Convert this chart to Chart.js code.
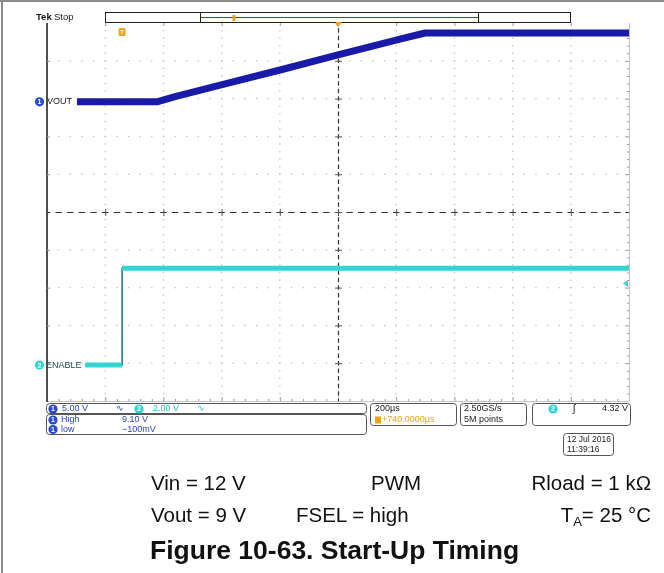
<!DOCTYPE html>
<html><head><meta charset="utf-8">
<script src="https://cdn.jsdelivr.net/npm/chart.js@4/dist/chart.umd.min.js"></script>
<style>
html,body{margin:0;padding:0;background:#fff;}
#wrap{position:relative;width:664px;height:573px;overflow:hidden;background:#fff;}
canvas{position:absolute;left:0;top:0;}
.cap{position:absolute;font-family:"Liberation Sans",Arial,sans-serif;font-size:20.5px;line-height:20px;color:#111;white-space:nowrap;}
.ttl{position:absolute;font-family:"Liberation Sans",Arial,sans-serif;font-size:26.5px;line-height:26px;font-weight:bold;color:#111;white-space:nowrap;}
.edge{position:absolute;background:#8c8c8c;}
</style></head><body>
<div id="wrap">
<canvas id="c" width="664" height="573"></canvas>
<div class="edge" style="left:0;top:0;width:664px;height:2px"></div>
<div class="edge" style="left:1px;top:0;width:2px;height:573px"></div>
<div class="cap" style="left:151px;top:473px">Vin = 12 V</div>
<div class="cap" style="left:371px;top:473px">PWM</div>
<div class="cap" style="right:13px;top:473px">Rload = 1 kΩ</div>
<div class="cap" style="left:151px;top:505px">Vout = 9 V</div>
<div class="cap" style="left:296px;top:505px">FSEL = high</div>
<div class="cap" style="right:13px;top:505px">T<sub style="font-size:13px;vertical-align:-4px">A</sub>= 25 °C</div>
<div class="ttl" style="left:150px;top:537px">Figure 10-63. Start-Up Timing</div>
</div>
<script>
// ---- data ----
const voutTimeUs   = [-897, -622, -560, -371, -199, 0, 213, 299, 1000];
const voutVolts    = [0, 0, 0.70, 2.54, 4.21, 6.20, 8.30, 9.1, 9.1];
const enableTimeUs = [-869, -742, -742, 1000];
const enableVolts  = [0, 0, 5.13, 5.13];
// ---- scope settings ----
const timePerDivUs = 200;
const ch1VoltsPerDiv = 5, ch2VoltsPerDiv = 2;
const ch1GroundDiv = 2.915, ch2GroundDiv = -4.05;
const triggerTimeUs = -742, triggerLevelV = 4.32;
const readout = {
  ch1Scale: '5.00 V', ch2Scale: '2.00 V', high: '9.10 V', low: '\u2212100mV',
  timebase: '200µs', position: '+740.0000µs', rate: '2.50GS/s', points: '5M points',
  trigLevel: '4.32 V', date: '12 Jul 2016', time: '11:39:16'
};

const BLUE = '#1a1aa8', BLUE_M = '#2a48d6', CYAN = '#34d4d4', CYAN_D = '#0e6b6b', ORANGE = '#f0a020';
const FONT = '"Liberation Sans Narrow","Liberation Sans",Arial,sans-serif';

const pts = (xs, ys) => xs.map((x, i) => ({x, y: ys[i]}));

function rrect(c, x, y, w, h, r) {
  c.beginPath();
  c.moveTo(x + r, y); c.lineTo(x + w - r, y); c.quadraticCurveTo(x + w, y, x + w, y + r);
  c.lineTo(x + w, y + h - r); c.quadraticCurveTo(x + w, y + h, x + w - r, y + h);
  c.lineTo(x + r, y + h); c.quadraticCurveTo(x, y + h, x, y + h - r);
  c.lineTo(x, y + r); c.quadraticCurveTo(x, y, x + r, y); c.closePath();
}
function badge(c, x, y, col, n) {
  c.fillStyle = col; c.beginPath(); c.arc(x, y, 4.6, 0, Math.PI * 2); c.fill();
  c.fillStyle = '#fff'; c.font = 'bold 7px ' + FONT; c.textAlign = 'center'; c.textBaseline = 'middle';
  c.fillText(n, x, y + 0.5); c.textAlign = 'left';
}
function txt(c, s, x, y, col, size, bold) {
  c.fillStyle = col; c.font = (bold ? 'bold ' : '') + size + 'px ' + FONT; c.textBaseline = 'middle'; c.fillText(s, x, y);
}

const graticule = {
  id: 'graticule',
  beforeDatasetsDraw(chart) {
    const c = chart.ctx, a = chart.chartArea;
    const L = a.left, R = a.right, T = a.top, B = a.bottom;
    const dx = (R - L) / 10, dy = (B - T) / 10;
    const cx = (L + R) / 2, cy = (T + B) / 2;
    c.save();
    // dotted graticule
    c.fillStyle = '#bdbdbd';
    for (let i = 1; i < 10; i++) {
      if (i === 5) continue;
      const x = L + i * dx;
      for (let j = 1; j < 50; j++) c.fillRect(x - 0.6, T + j * dy / 5 - 0.6, 1.3, 1.3);
      const y = T + i * dy;
      for (let j = 1; j < 50; j++) c.fillRect(L + j * dx / 5 - 0.6, y - 0.6, 1.3, 1.3);
    }
    // frame
    c.strokeStyle = '#c4c4c4'; c.lineWidth = 1;
    c.beginPath(); c.moveTo(R + 0.5, T); c.lineTo(R + 0.5, B); c.moveTo(L, B + 0.5); c.lineTo(R, B + 0.5); c.stroke();
    c.strokeStyle = '#222'; c.lineWidth = 1.6;
    c.beginPath(); c.moveTo(L, T); c.lineTo(L, B + 1); c.stroke();
    // edge ticks
    c.strokeStyle = '#999'; c.lineWidth = 1;
    c.beginPath();
    for (let j = 1; j < 50; j++) {
      const x = L + j * dx / 5, y = T + j * dy / 5;
      const big = j % 5 === 0;
      c.moveTo(x + 0.5, B); c.lineTo(x + 0.5, B - (big ? 4 : 2));
      c.moveTo(R, y + 0.5); c.lineTo(R - (big ? 4 : 2), y + 0.5);
    }
    for (let i = 1; i < 10; i++) {
      const x = L + i * dx, y = T + i * dy;
      c.moveTo(x + 0.5, T); c.lineTo(x + 0.5, T + 3);
      c.moveTo(L, y + 0.5); c.lineTo(L + 3, y + 0.5);
    }
    c.stroke();
    // center crosshair
    c.strokeStyle = '#333'; c.lineWidth = 1.2;
    c.setLineDash([6.5, 5.14]); c.lineDashOffset = 3.25;
    c.beginPath(); c.moveTo(L, cy + 0.5); c.lineTo(R, cy + 0.5); c.stroke();
    c.setLineDash([4.5, 3.06]); c.lineDashOffset = 2.25;
    c.beginPath(); c.moveTo(cx + 0.5, T); c.lineTo(cx + 0.5, B); c.stroke();
    c.setLineDash([]);
    c.lineWidth = 1; c.strokeStyle = '#555';
    c.beginPath();
    for (let i = 1; i < 10; i++) {
      const x = L + i * dx, y = T + i * dy;
      c.moveTo(x + 0.5, cy - 3); c.lineTo(x + 0.5, cy + 4);
      c.moveTo(cx - 3, y + 0.5); c.lineTo(cx + 4, y + 0.5);
    }
    c.stroke();
    c.restore();
  },
  afterDatasetsDraw(chart) {
    const c = chart.ctx, a = chart.chartArea, sx = chart.scales.x, s1 = chart.scales.y1, s2 = chart.scales.y2;
    c.save();
    // channel ground markers and labels
    const g1 = s1.getPixelForValue(0), g2 = s2.getPixelForValue(0);
    badge(c, 39.5, g1, BLUE_M, '1');
    txt(c, 'VOUT', 47, g1, '#222', 9);
    badge(c, 39.5, g2, CYAN, '2');
    txt(c, 'ENABLE', 46, g2, '#244e4e', 9);
    // trigger level marker (right edge)
    const tl = s2.getPixelForValue(triggerLevelV);
    c.fillStyle = CYAN; c.beginPath(); c.moveTo(a.right - 6, tl); c.lineTo(a.right - 1, tl - 3.5); c.lineTo(a.right - 1, tl + 3.5); c.closePath(); c.fill();
    // trigger position marker
    const tx = sx.getPixelForValue(triggerTimeUs);
    c.fillStyle = ORANGE; rrect(c, tx - 3.5, a.top + 5, 7, 8, 1.5); c.fill();
    c.fillStyle = '#fff'; c.font = 'bold 6px ' + FONT; c.textAlign = 'center'; c.textBaseline = 'middle'; c.fillText('T', tx, a.top + 9.3); c.textAlign = 'left';
    // expansion point marker
    const ex = sx.getPixelForValue(0);
    c.fillStyle = ORANGE; c.beginPath(); c.moveTo(ex - 3, a.top); c.lineTo(ex + 3, a.top); c.lineTo(ex, a.top + 4); c.closePath(); c.fill();

    // ---- top status bar ----
    txt(c, 'Tek', 36, 17.5, '#111', 9.5, true);
    txt(c, 'Stop', 54, 17.5, '#222', 9.5);
    c.strokeStyle = '#222'; c.lineWidth = 1;
    c.strokeRect(105.5, 12.5, 465, 10);
    c.beginPath(); c.moveTo(200.5, 12.5); c.lineTo(200.5, 22.5); c.moveTo(478.5, 12.5); c.lineTo(478.5, 22.5); c.stroke();
    c.strokeStyle = '#3040c8'; c.lineWidth = 1;
    c.beginPath(); c.moveTo(201, 17.5); c.lineTo(478, 17.5); c.stroke();
    c.fillStyle = ORANGE; c.fillRect(232.5, 15, 3, 6);
    c.beginPath(); c.moveTo(335.5, 22); c.lineTo(341.5, 22); c.lineTo(338.5, 26); c.closePath(); c.fill();

    // ---- bottom readouts ----
    c.strokeStyle = '#555'; c.lineWidth = 1;
    rrect(c, 46.5, 403.5, 320, 10, 3); c.stroke();
    rrect(c, 46.5, 414.5, 320, 20, 3); c.stroke();
    rrect(c, 370.5, 403.5, 86, 22, 3); c.stroke();
    rrect(c, 460.5, 403.5, 66, 22, 3); c.stroke();
    rrect(c, 532.5, 403.5, 98, 22, 3); c.stroke();
    rrect(c, 563.5, 433.5, 50, 22, 3); c.stroke();

    badge(c, 53, 409, BLUE_M, '1');
    txt(c, readout.ch1Scale, 62, 409, '#2a44c4', 9);
    txt(c, '\u223F', 116, 409, '#2a44c4', 9);
    badge(c, 139, 409, CYAN, '2');
    txt(c, readout.ch2Scale, 153, 409, '#2fc0c0', 9);
    txt(c, '\u223F', 197, 409, '#2fc0c0', 9);
    badge(c, 53, 420, BLUE_M, '1');
    txt(c, 'High', 61, 420, '#2a44c4', 9);
    txt(c, readout.high, 122, 420, '#2a44c4', 9);
    badge(c, 53, 429.5, BLUE_M, '1');
    txt(c, 'low', 61, 429.5, '#2a44c4', 9);
    txt(c, readout.low, 122, 429.5, '#2a44c4', 9);

    txt(c, readout.timebase, 375, 409, '#222', 9);
    c.fillStyle = ORANGE; c.fillRect(375, 416.5, 6, 7);
    txt(c, readout.position, 382, 420, ORANGE, 9);
    txt(c, readout.rate, 464, 409, '#222', 9);
    txt(c, readout.points, 464, 420, '#222', 9);
    badge(c, 553, 409, CYAN, '2');
    txt(c, '\u0283', 573, 409, '#222', 10);
    c.textAlign = 'right'; txt(c, readout.trigLevel, 628, 409, '#222', 9); c.textAlign = 'left';
    txt(c, readout.date, 567, 440, '#222', 8.5);
    txt(c, readout.time, 567, 450, '#222', 8.5);
    c.restore();
  }
};

new Chart(document.getElementById('c'), {
  type: 'line',
  data: {
    datasets: [
      { label: 'VOUT', data: pts(voutTimeUs, voutVolts), yAxisID: 'y1', borderColor: BLUE, borderWidth: 7,
        pointRadius: 0, tension: 0, borderJoinStyle: 'round' },
      { label: 'ENABLE band', data: pts(enableTimeUs, enableVolts), yAxisID: 'y2', borderColor: CYAN, borderWidth: 5,
        pointRadius: 0, tension: 0,
        segment: { borderColor: s => (s.p0.parsed.x === s.p1.parsed.x ? 'rgba(0,0,0,0)' : CYAN) } },
      { label: 'ENABLE', data: pts(enableTimeUs, enableVolts), yAxisID: 'y2', borderColor: CYAN_D, borderWidth: 1.4,
        pointRadius: 0, tension: 0 }
    ]
  },
  options: {
    responsive: false, animation: false, events: [],
    layout: { padding: { left: 47, right: 35, top: 23, bottom: 172 } },
    plugins: { legend: { display: false }, tooltip: { enabled: false } },
    scales: {
      x: { type: 'linear', display: false, min: -5 * timePerDivUs, max: 5 * timePerDivUs },
      y1: { type: 'linear', display: false, min: (-5 - ch1GroundDiv) * ch1VoltsPerDiv, max: (5 - ch1GroundDiv) * ch1VoltsPerDiv },
      y2: { type: 'linear', display: false, min: (-5 - ch2GroundDiv) * ch2VoltsPerDiv, max: (5 - ch2GroundDiv) * ch2VoltsPerDiv }
    }
  },
  plugins: [graticule]
});
</script>
</body></html>
